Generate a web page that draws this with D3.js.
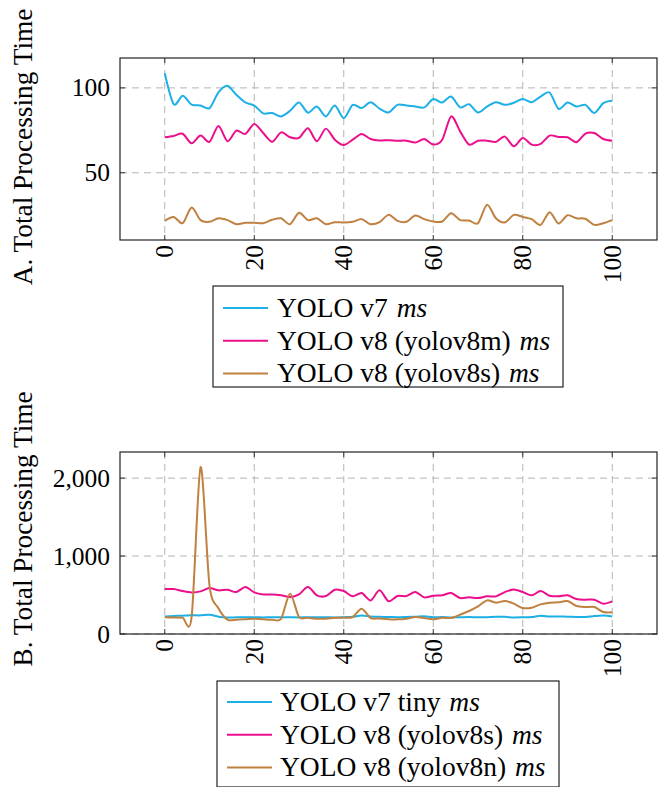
<!DOCTYPE html>
<html>
<head>
<meta charset="utf-8">
<script src="https://cdnjs.cloudflare.com/ajax/libs/d3/7.8.5/d3.min.js"></script>
<style>
  body { margin: 0; background: #fff; }
  svg { display: block; }
  text { font-family: "Liberation Serif", "Times New Roman", serif; fill: #000; }
  .grid line { stroke: #b4b4b4; stroke-width: 1; stroke-dasharray: 7,5; }
  .line { fill: none; stroke-width: 2; }
</style>
</head>
<body>
<div id="plotPlaceholder"></div>
<script>
// frame index (x axis) shared by both panels
const frames = [0,2,4,6,8,10,12,14,16,18,20,22,24,26,28,30,32,34,36,38,40,42,44,46,48,50,
                52,54,56,58,60,62,64,66,68,70,72,74,76,78,80,82,84,86,88,90,92,94,96,98,100]

// panel A
const yolov7 = [108.6,90.4,95.3,90.2,89.6,88.1,97.3,101.2,95.9,91.4,89.6,85,85.2,83.2,86.5,91.4,85.4,89,83.2,89.6,
                82.2,90,88.1,91.6,87.8,85.5,90,89.6,89,88.5,93.4,91.4,94.9,88.5,90.4,85.5,89,91.6,90,91.2,
                93.4,91.6,94.9,97.3,87.7,91.4,89,90,85.2,91,92.4]
const yolov8m = [70.9,71.7,73,67.4,71.9,68.2,77.5,68.6,74.8,72.9,78.7,73.4,68.2,73.8,70.9,70.5,76.2,68.6,76,69.5,
                 66.4,69.5,72.9,69.9,69,69.2,68.9,68.9,67.8,69.9,66.6,69.5,83.2,74.4,66.6,68.9,68.9,68.2,71.3,65.6,
                 70.5,66.6,67,71.9,71.1,70.9,68,73,73.4,69.9,68.9]
const yolov8sA = [21.7,24,20.3,29.5,22.1,21.1,23.2,22.1,19.7,20.5,20.5,20.3,22.3,23.2,19.7,26.4,22.1,23.2,19.7,20.9,
                  20.7,21.1,22.7,19.7,20.9,25.2,21.7,21.1,24.8,22.7,21.3,21.3,26.2,22.1,21.9,20.3,31.1,23.2,20.7,25.2,
                  24,22.7,19.3,26.8,20.1,25,23.2,22.9,19.3,20.3,22.1]

// panel B
const yolov7tiny = [226,231,235,240,239,248,222,212,214,215,214,213,214,215,215,213,216,214,215,212,
                    216,220,236,224,220,218,215,218,222,228,214,218,212,215,218,214,216,220,220,212,
                    214,218,234,224,224,222,218,218,230,238,226]
const yolov8sB = [577,577,551,534,547,590,560,568,538,602,534,508,508,496,474,508,602,496,487,568,
                  551,483,526,431,560,421,487,487,538,470,491,496,526,461,470,461,483,483,538,572,
                  538,496,551,491,483,496,449,440,440,389,419]
const yolov8n = [214,212,210,215,2141,620,330,185,183,188,196,188,183,196,517,218,209,196,196,209,
                 209,218,325,205,200,190,188,196,218,205,188,209,205,248,295,355,431,402,423,389,
                 333,338,380,402,406,423,359,346,346,282,278]

const xTicks = [0, 20, 40, 60, 80, 100]
const yTicksA = [50, 100]
const yTicksB = [0, 1000, 2000]

const colors = {cyan: "#1cb0e6", magenta: "#ec0f8c", brown: "#bf8040"}

const panels = [
  {
    top: 58, bottom: 240, yDomain: [10.4, 117.6], yTicks: yTicksA,
    title: "A. Total Processing Time", titleY: 147,
    legend: {x: 213, y: 286, w: 350, h: 101, rowY: 317, lineX: 223, textX: 277},
    series: [
      {name: "YOLO v7 ", values: yolov7, color: colors.cyan},
      {name: "YOLO v8 (yolov8m) ", values: yolov8m, color: colors.magenta},
      {name: "YOLO v8 (yolov8s) ", values: yolov8sA, color: colors.brown}
    ]
  },
  {
    top: 452, bottom: 634, yDomain: [0, 2335], yTicks: yTicksB,
    title: "B. Total Processing Time", titleY: 529,
    legend: {x: 217, y: 681, w: 342, h: 106, rowY: 711, lineX: 227, textX: 280},
    series: [
      {name: "YOLO v7 tiny ", values: yolov7tiny, color: colors.cyan},
      {name: "YOLO v8 (yolov8s) ", values: yolov8sB, color: colors.magenta},
      {name: "YOLO v8 (yolov8n) ", values: yolov8n, color: colors.brown}
    ]
  }
]

const left = 120, right = 657

const canvas = d3.select("#plotPlaceholder").append("svg")
    .attr("width", 664)
    .attr("height", 787)

panels.forEach((p) => {
  const x = d3.scaleLinear().domain([-10, 110]).range([left, right])
  const y = d3.scaleLinear().domain(p.yDomain).range([p.bottom, p.top])
  const g = canvas.append("g")

  // grid
  const grid = g.append("g").attr("class", "grid")
  grid.selectAll(".gx").data(xTicks).enter().append("line")
      .attr("x1", d => x(d)).attr("x2", d => x(d))
      .attr("y1", p.top).attr("y2", p.bottom)
  grid.selectAll(".gy").data(p.yTicks).enter().append("line")
      .attr("x1", left).attr("x2", right)
      .attr("y1", d => y(d)).attr("y2", d => y(d))

  // lines
  const line = d3.line()
      .curve(d3.curveCardinal.tension(0.15))
      .x((d, i) => x(frames[i]))
      .y(d => y(d))

  g.selectAll("path.line").data(p.series).enter().append("path")
      .attr("class", "line")
      .attr("stroke", d => d.color)
      .attr("d", d => line(d.values))

  // ticks on all four sides (inward)
  const tk = g.append("g").attr("stroke", "#333").attr("stroke-width", 1)
  xTicks.forEach(t => {
    tk.append("line").attr("x1", x(t)).attr("x2", x(t)).attr("y1", p.bottom).attr("y2", p.bottom - 5)
    tk.append("line").attr("x1", x(t)).attr("x2", x(t)).attr("y1", p.top).attr("y2", p.top + 5)
  })
  p.yTicks.forEach(t => {
    tk.append("line").attr("x1", left).attr("x2", left + 5).attr("y1", y(t)).attr("y2", y(t))
    tk.append("line").attr("x1", right).attr("x2", right - 5).attr("y1", y(t)).attr("y2", y(t))
  })

  // frame
  g.append("rect")
      .attr("x", left).attr("y", p.top)
      .attr("width", right - left).attr("height", p.bottom - p.top)
      .attr("fill", "none").attr("stroke", "#222").attr("stroke-width", 1.2)

  // tick labels
  g.selectAll(".xl").data(xTicks).enter().append("text")
      .attr("text-anchor", "end")
      .attr("dominant-baseline", "central")
      .attr("font-size", 25.5)
      .attr("transform", d => `translate(${x(d)},${p.bottom + 5}) rotate(-90)`)
      .text(d => d)

  g.selectAll(".yl").data(p.yTicks).enter().append("text")
      .attr("text-anchor", "end")
      .attr("font-size", 25.5)
      .attr("x", 110)
      .attr("y", d => y(d) + 8.5)
      .text(d => d3.format(",")(d))

  // y title
  g.append("text")
      .attr("text-anchor", "middle")
      .attr("font-size", 27.3)
      .attr("transform", `translate(32,${p.titleY}) rotate(-90)`)
      .text(p.title)

  // legend
  const L = p.legend
  const lg = g.append("g")
  lg.append("rect")
      .attr("x", L.x).attr("y", L.y).attr("width", L.w).attr("height", L.h)
      .attr("fill", "#fff").attr("stroke", "#222").attr("stroke-width", 1.2)
  p.series.forEach((s, i) => {
    const by = L.rowY + i * 32.7
    lg.append("line")
        .attr("x1", L.lineX).attr("x2", L.lineX + 45)
        .attr("y1", by - 9).attr("y2", by - 9)
        .attr("stroke", s.color).attr("stroke-width", 2)
    const t = lg.append("text")
        .attr("x", L.textX).attr("y", by)
        .attr("font-size", 27.5)
    t.append("tspan").text(s.name)
    t.append("tspan").attr("font-style", "italic").attr("dx", 2).text("ms")
  })
})
</script>
</body>
</html>
